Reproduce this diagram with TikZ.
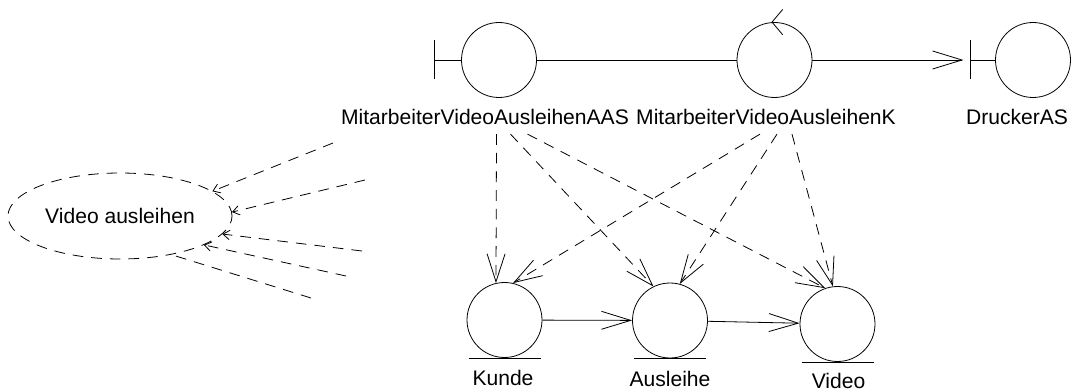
\documentclass[tikz,border=0pt]{standalone}
\usepackage{fontspec}
\setmainfont{Liberation Sans}
\usepackage{tikz}
\usetikzlibrary{calc, arrows.meta, shapes.geometric}

\begin{document}
\begin{tikzpicture}[x=0.75pt, y=-0.75pt, line width=0.6pt, font=\fontsize{15.8}{18}\selectfont,
   obj node/.style={circle, draw, minimum size=56.25pt, inner sep=0pt},
   name node/.style={inner sep=0pt},
   flow/.style={-{Straight Barb[length=22pt,width=13.5pt]}},
   dep/.style={dash pattern=on 8pt off 6pt, -{Straight Barb[length=21pt,width=13.5pt]}},
   uses/.style={dash pattern=on 8pt off 6pt, -{Straight Barb[length=5pt,width=7pt]}}]
   \useasboundingbox (0,0) rectangle (1075,392);

   % use case
   \node[ellipse, draw, dash pattern=on 8pt off 6pt, minimum width=160.5pt, minimum height=64.5pt] (uc) at (120,216) {Video ausleihen};
   \coordinate (ua) at (333,143);
   \coordinate (ub) at (365,180);
   \coordinate (uc2) at (362,251);
   \coordinate (ud) at (346,276);
   \coordinate (ue) at (311,298);
   \draw[uses] (ua) -- (uc.15);
   \draw[uses] (ub) -- (uc.2);
   \draw[uses] (uc2) -- (uc.-10);
   \draw[uses] (ud) -- (uc.-19);
   \draw[dash pattern=on 8pt off 6pt] (ue) -- (uc.-37);

   % top row
   \node[obj node] (aas) at (499,60) {};
   \node[obj node] (ktrl) at (774.5,60) {};
   \node[obj node] (drucker) at (1033,60) {};
   \coordinate (abar) at (434,60);
   \coordinate (dbar) at (970,60);
   \node[name node] (aasl) at (485,117) {MitarbeiterVideoAusleihenAAS};
   \node[name node] (ktrll) at (766,117) {MitarbeiterVideoAusleihenK};
   \node[name node] (druckerl) at (1017,117) {DruckerAS};

   \draw (abar) -- (aas);
   \draw (abar) ++(0,-20) -- ++(0,39);
   \draw (dbar) -- (drucker);
   \draw (dbar) ++(0,-20) -- ++(0,39);
   \draw[-{Straight Barb[length=8pt,width=19pt]}] (ktrl.north) -- ++(-3,0);

   \draw (aas) -- (ktrl);
   \draw[flow, shorten >=5pt] (ktrl) -- (dbar);

   % entities
   \node[obj node] (kunde) at (504.5,320) {};
   \node[obj node] (ausleihe) at (670,320.5) {};
   \node[obj node] (video) at (837.5,324) {};
   \foreach \n in {kunde, ausleihe, video}
      \draw (\n.south) ++(-36,0) -- ++(72,0);
   \node[name node] (kundel) at (503,378) {Kunde};
   \node[name node] (ausleihel) at (670,379) {Ausleihe};
   \node[name node] (videol) at (838.5,381) {Video};

   \draw[flow] (kunde) -- (ausleihe);
   \draw[flow] (ausleihe) -- (video);

   \draw[dep] ($(aasl.south)+(11.5,9)$) -- (kunde.103);
   \draw[dep] ($(aasl.south)+(25.5,9)$) -- (ausleihe.116);
   \draw[dep] ($(aasl.south)+(42.5,9)$) -- (video.109);
   \draw[dep] ($(ktrll.south)+(-6,9)$) -- (kunde.77);
   \draw[dep] ($(ktrll.south)+(11,9)$) -- (ausleihe.75);
   \draw[dep] ($(ktrll.south)+(26,9)$) -- (video.97);
\end{tikzpicture}
\end{document}
